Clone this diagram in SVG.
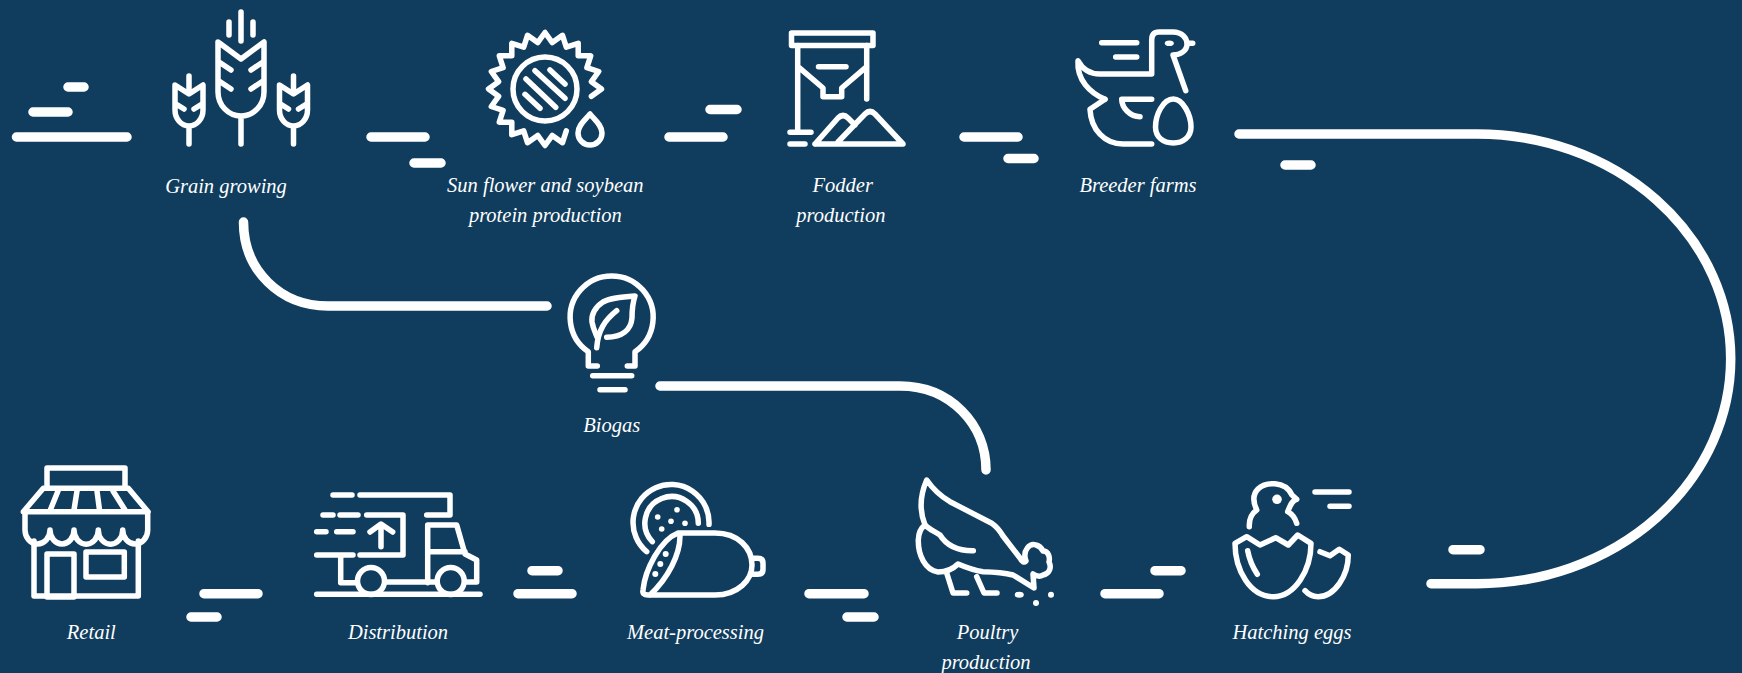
<svg xmlns="http://www.w3.org/2000/svg" width="1742" height="673" viewBox="0 0 1742 673">
<style>
.i{fill:none;stroke:#fff;stroke-width:5.5;stroke-linecap:round;stroke-linejoin:round}
.d{fill:none;stroke:#fff;stroke-width:9.5;stroke-linecap:round;stroke-linejoin:round}
.f{fill:#fff}
text{font-family:"Liberation Serif","Times New Roman",serif;font-style:italic;font-size:20.5px;fill:#fff;text-anchor:middle}
</style>
<rect width="1742" height="673" fill="#103d5e"/>
<g id="connectors" class="d">
<path d="M16.500 137H127M33 112H68M68 87H84M371 137H425M414 163H441M669 137H723M710 109.500H737M964 137H1018M1008 158.500H1034M1285 165H1311M204 593.700H258M191 617H217M518 593.700H572M532 570.700H558M809 593.700H864M847 617H874M1105 593.700H1159M1155 570.700H1181M1453 549.700H1480"/>
<path d="M243.500 222C243.500 270 280 306 328 306H547"/>
<path d="M660 386H900C950 386 986 424 986 470"/>
<path d="M1239 134H1477A253.700 224.850 0 0 1 1730.700 358.850A253.700 224.850 0 0 1 1477 583.700H1431"/>
</g>
<g id="grain-growing">
<g class="i">
<path d="M241 12V41M229 22V35M253 22V35M218 42L241 59L264 42V92A23 24 0 0 1 218 92ZM241 116V144M219 62L231 70M219 81L231 89M263 62L251 70M263 81L251 89"/>
<path d="M189 76V92M175 85L189 94L203 85V110A14 16 0 0 1 175 110ZM189 127V144M176 104L184 109M202 104L194 109"/>
<path d="M293.500 76V92M279.500 85L293.500 94L307.500 85V110A14 16 0 0 1 279.500 110ZM293.500 127V144M280.500 104L288.500 109M306.500 104L298.500 109"/>
</g>
<text x="226" y="193">Grain growing</text>
</g>
<g id="sunflower">
<g class="i">
<path d="M591.400 96.300L601.500 89L591.400 81.700L598.700 71.500L586.900 67.700L590.700 55.800L578.200 55.800L578.200 43.300L566.300 47.100L562.500 35.300L552.300 42.600L545 32.500L537.700 42.600L527.500 35.300L523.700 47.100L511.800 43.300L511.800 55.800L499.300 55.800L503.100 67.700L491.300 71.500L498.600 81.700L488.500 89L498.600 96.300L491.300 106.500L503.100 110.300L499.300 122.200L511.800 122.200L511.800 134.700L523.700 130.900L527.500 142.700L537.700 135.400L545 145.500L552.300 135.400L562.500 142.700L566.300 130.900"/>
<circle cx="545" cy="89" r="32"/>
<path d="M535 70.700L565 98.300M526 79L555.700 107.300M550 70L565 84M525 94.300L540 108.300"/>
<path d="M590 114C585 120 578 125 578 133A12 12 0 0 0 602 133C602 125 595 120 590 114Z"/>
</g>
<text x="545.300" y="191.700">Sun flower and soybean</text>
<text x="545.300" y="221.700">protein production</text>
</g>
<g id="fodder">
<g class="i">
<rect x="791.500" y="33" width="81.500" height="12.500"/>
<path d="M797.700 45.500V132.300M790 132.300H811M790 144H805M866.700 45.500V99M798 66.700L823 88V96.700H841.700V88L866.700 66.700M818.500 66.700H846"/>
<path d="M815 144H903L875 114Q870 109 865 114L838 142M815 144L838 118Q843 113 848 118L855 125"/>
</g>
<text x="842.700" y="191.700">Fodder</text>
<text x="840.800" y="221.700">production</text>
</g>
<g id="breeder-farms">
<g class="i">
<path d="M1105 99.300C1090 93 1076.700 80 1078 60.700C1083 70 1090 74 1100 74H1151.700V40Q1151.700 32 1159 32H1173C1182 32 1187 38 1187 44C1187 51 1180 55 1173 55L1185.700 90.700"/>
<path d="M1105 99.300L1090 109.300C1091 130 1105 144 1123 144H1151.700"/>
<path d="M1151.700 99.300H1121.700C1122 108 1130 116.700 1140 116.700"/>
<path d="M1188 43.300H1192.700M1101.700 42.700H1136.700M1115.700 57H1136.700"/>
<path d="M1173.300 99C1183 99 1191 115 1191 127C1191 137 1183 143 1173.300 143C1163 143 1155.500 137 1155.500 127C1155.500 115 1163 99 1173.300 99Z"/>
</g>
<ellipse class="f" cx="1169.300" cy="43.300" rx="4.500" ry="2.800"/>
<text x="1138" y="191.700">Breeder farms</text>
</g>
<g id="biogas">
<g class="i">
<path d="M597.300 366H588.300V351.700A41.500 41.500 0 1 1 635 351.700V366H627.300"/>
<path d="M592.700 375.700H631.700M600 389.700H625"/>
<path d="M596.700 347.700C598 330 605 320 616.700 310.700"/>
<path d="M606.700 337.300C622 337 631 330 632 318C632 310 633 302 635 296C620 297 610 298 603 302C595 307 591 315 592 322C593 328 595 332 597 337"/>
</g>
<text x="611.800" y="431.700">Biogas</text>
</g>
<g id="retail">
<g class="i">
<path d="M47 488V468H125V488"/>
<path d="M43.300 488.300H128.300L148 511.700H23.300ZM58 491L50 510.700M77 491L74 510M97 491L99.500 510M113 491L125 510"/>
<path d="M25 512V530A12.500 14 0 0 0 50 530A12 14 0 0 0 74 530A12 14 0 0 0 98.300 530A12 14 0 0 0 122.700 530A12.500 14 0 0 0 147.700 530V512"/>
<path d="M34 541V596H138.300V541"/>
<rect x="47" y="554" width="27" height="43"/>
<rect x="86" y="552" width="38.300" height="25"/>
</g>
<text x="91.300" y="639">Retail</text>
</g>
<g id="distribution">
<g class="i">
<path d="M333 495H352M360 495H450V515H426.700M323 515H333M340 515H358M366.700 515H403V555H360M316.700 531.700H326M336.700 531.700H353M316.700 555H353M340.700 555V582.700H356.700"/>
<path d="M381 546.700V526M370 532L381 524L392.700 532"/>
<path d="M386.700 582H435M427.700 582.700V525H456.700L465 554L476.700 560V582H466.700M427.700 551.700H465"/>
<circle cx="371" cy="581" r="13.500"/>
<circle cx="450.700" cy="581" r="13.500"/>
<path d="M316.700 594.300H480"/>
</g>
<text x="398" y="639">Distribution</text>
</g>
<g id="meat-processing">
<g class="i">
<path d="M646.700 551.700A38 38 0 1 1 709 524.300"/>
<path d="M652.300 541.700A26.700 26.700 0 1 1 698.300 523.300"/>
<path d="M678 533H715C738 533 752 548 752 565C752 580 738 595 715 595H648Q642 595 643 590C645 570 660 540 678 533ZM680 536C680 555 668 578 650 595"/>
<path d="M753 558.300H758Q763 558.300 763 563.300V569.300Q763 574.300 758 574.300H753"/>
</g>
<g class="f"><circle cx="657.700" cy="517" r="2.800"/><circle cx="677" cy="509.700" r="2.800"/><circle cx="671" cy="521.300" r="2.800"/><circle cx="685" cy="523.300" r="2.800"/><circle cx="661.700" cy="529" r="2.800"/><circle cx="665.700" cy="554" r="3"/><circle cx="660.300" cy="564" r="3"/><circle cx="655.300" cy="574" r="3"/></g>
<text x="695.500" y="639">Meat-processing</text>
</g>
<g id="poultry-production">
<g class="i">
<path d="M926.700 480C935 492 942 497 950 501.700L991.700 523.300C997 527 1000 531 1003 536L1020 558C1022 562 1024 563 1026 561C1022 550 1030 543 1036 545C1040 546 1042 549 1043 551C1049 551 1050 558 1049 562C1052 568 1049 574 1043 575C1040 577 1036 576 1033 574L1034 588L1013 575C1005 573 995 572 983 571.700C972 570 965 567 958 564C952 570 945 572 938 572C925 570 918 555 918.300 540C918.500 533 921 528 925 525C921 515 918 500 926.700 480Z"/>
<path d="M925 525C930 530 936 532 940 535C945 543 955 551 973.300 550.700"/>
<path d="M946.700 573L953 593H966.700M976.700 576.700L984 593H997"/>
</g>
<g class="f"><ellipse cx="1019.300" cy="594.700" rx="4.500" ry="3"/><circle cx="1036" cy="603" r="3"/><circle cx="1051" cy="594.700" r="3"/></g>
<text x="987.500" y="639">Poultry</text>
<text x="986" y="669">production</text>
</g>
<g id="hatching-eggs">
<g class="i">
<path d="M1256.700 510C1252 500 1254 493 1258 489C1265 482 1285 480 1292 495L1296.700 499.300M1287.700 511.700C1291 503 1293 500 1296.700 499.300M1256.700 510C1251 514 1249 520 1249.300 526.700M1287.700 511.700C1292 514 1295 518 1296.700 523.300"/>
<path d="M1315 492H1349M1330 506.300H1349"/>
<path d="M1235 543.300L1246.700 536.700L1260 545L1275.700 537.700L1288.300 545L1297.700 535L1311 543.300C1311 570 1295 596.700 1273.300 596.700C1250 596.700 1235 570 1235 543.300Z"/>
<path d="M1247.700 550.700C1249 558 1252 566 1257.300 574.300"/>
<path d="M1320 551.700L1330 555.700L1339.300 549.300L1348.300 555C1348.300 575 1335 596.700 1318 596.700C1313 596.700 1308 594 1305 590.700"/>
</g>
<circle class="f" cx="1277" cy="499.300" r="4.800"/>
<text x="1292" y="639">Hatching eggs</text>
</g>
</svg>
